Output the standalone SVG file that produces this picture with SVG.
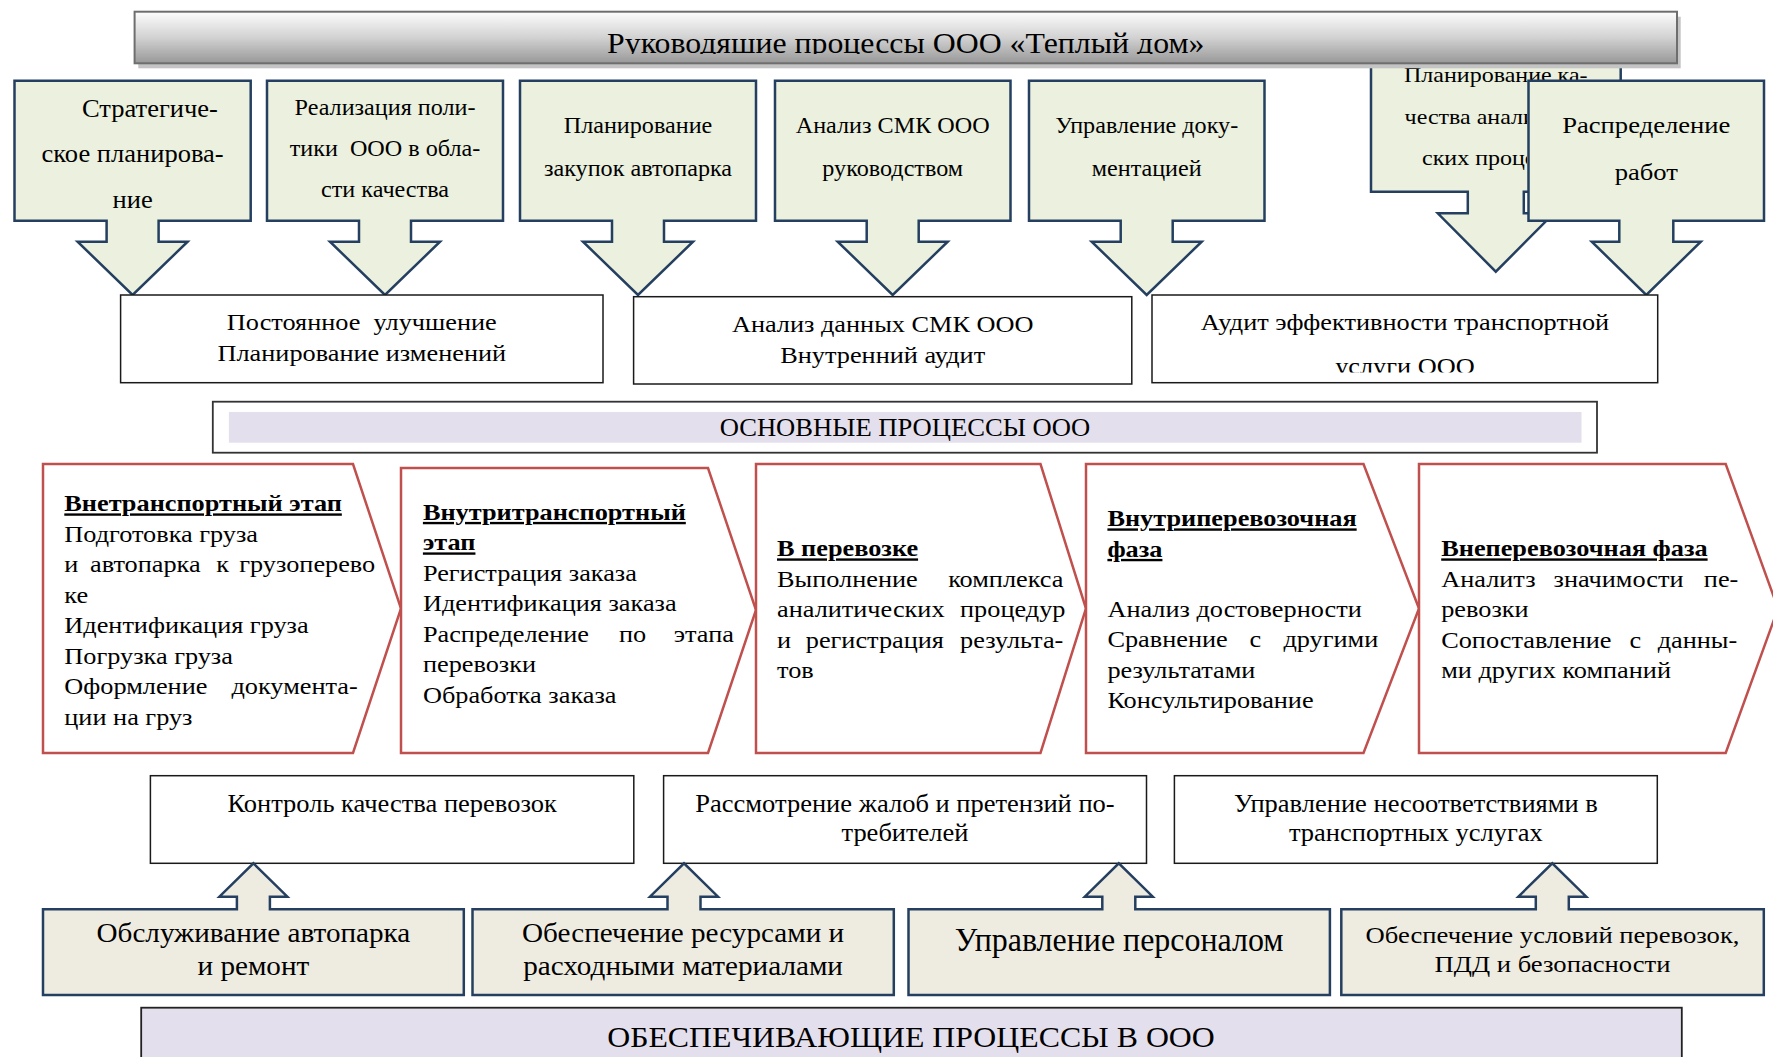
<svg xmlns="http://www.w3.org/2000/svg" width="1773" height="1057" viewBox="0 0 1773 1057">
<style>
.t { font-family: "Liberation Serif", "Times New Roman", serif; fill: #000; }
.b { font-weight: bold; text-decoration: underline; }
.green { fill: #ebf1de; stroke: #243f60; stroke-width: 2.5; }
.white { fill: #ffffff; stroke: #1a1a1a; stroke-width: 1.5; }
.chev { fill: #ffffff; stroke: #c0504d; stroke-width: 2.5; }
.beige { fill: #eeece1; stroke: #243f60; stroke-width: 2.5; }
.lav { fill: #e4dfec; }
</style>
<defs>
<linearGradient id="gTitle" x1="0" y1="0" x2="0" y2="1">
<stop offset="0" stop-color="#fdfdfd"/>
<stop offset="0.5" stop-color="#d2d2d2"/>
<stop offset="1" stop-color="#989898"/>
</linearGradient>
<clipPath id="clipTitle"><rect x="134" y="12" width="1544" height="42"/></clipPath>
<clipPath id="clipAudit"><rect x="1152" y="340" width="505" height="32.5"/></clipPath>
<clipPath id="clipQplan"><rect x="1372" y="88" width="155" height="102"/></clipPath>
</defs>
<rect width="1773" height="1057" fill="#ffffff"/>

<!-- top management callouts -->
<g id="n-strat">
<path class="green" d="M14.5,80.7 H250.7 V220.7 H158.6 V241.7 H187.6 L132.6,295 L77.6,241.7 H106.6 V220.7 H14.5 Z"/>
<text class="t" font-size="26" transform="matrix(1.02 0 0 1 82 0)" x="0" y="117">Стратегиче-</text>
<text class="t" font-size="26" text-anchor="middle" transform="matrix(1.02 0 0 1 132.6 0)"><tspan x="0" y="162.5">ское планирова-</tspan><tspan x="0" y="208">ние</tspan></text>
</g>
<g id="n-policy">
<path class="green" d="M267,80.7 H503 V220.7 H411 V241.7 H440 L385,295 L330,241.7 H359 V220.7 H267 Z"/>
<text class="t" font-size="23" text-anchor="middle" xml:space="preserve" transform="matrix(1.05 0 0 1 385 0)"><tspan x="0" y="115">Реализация поли-</tspan><tspan x="0" y="156">тики  ООО в обла-</tspan><tspan x="0" y="197">сти качества</tspan></text>
</g>
<g id="n-purchase">
<path class="green" d="M520,80.7 H756 V220.7 H664 V241.7 H693 L638,295 L583,241.7 H612 V220.7 H520 Z"/>
<text class="t" font-size="23" text-anchor="middle" transform="matrix(1.05 0 0 1 638 0)"><tspan x="0" y="133">Планирование</tspan><tspan x="0" y="176">закупок автопарка</tspan></text>
</g>
<g id="n-qms">
<path class="green" d="M775,80.7 H1010.5 V220.7 H918.7 V241.7 H947.7 L892.7,295 L837.7,241.7 H866.7 V220.7 H775 Z"/>
<text class="t" font-size="23" text-anchor="middle" transform="matrix(1.05 0 0 1 892.7 0)"><tspan x="0" y="133">Анализ СМК ООО</tspan><tspan x="0" y="176">руководством</tspan></text>
</g>
<g id="n-docs">
<path class="green" d="M1029,80.7 H1264.5 V220.7 H1172.7 V241.7 H1201.7 L1146.7,295 L1091.7,241.7 H1120.7 V220.7 H1029 Z"/>
<text class="t" font-size="23" text-anchor="middle" transform="matrix(1.05 0 0 1 1146.7 0)"><tspan x="0" y="133">Управление доку-</tspan><tspan x="0" y="176">ментацией</tspan></text>
</g>
<g id="n-qplan">
<path class="green" d="M1371,45 H1620.7 V191.7 H1523.8 V213.3 H1553.8 L1495.8,271.7 L1437.8,213.3 H1467.8 V191.7 H1371 Z"/>
<text class="t" font-size="20" text-anchor="middle" transform="matrix(1.2 0 0 1 1495.8 0)" x="0" y="82.5">Планирование ка-</text>
<g clip-path="url(#clipQplan)">
<text class="t" font-size="20" transform="matrix(1.2 0 0 1 1404.6 0)"><tspan x="0" y="124">чества анали</tspan><tspan x="14.5" y="165">ских проце</tspan></text>
</g>
</g>
<g id="n-distr">
<path class="green" d="M1528.5,80.7 H1764 V220.7 H1673.3 V241.7 H1700.8 L1646.3,295 L1591.8,241.7 H1619.3 V220.7 H1528.5 Z"/>
<text class="t" font-size="24" text-anchor="middle" transform="matrix(1.11 0 0 1 1646.3 0)"><tspan x="0" y="132.7">Распределение</tspan><tspan x="0" y="180">работ</tspan></text>
</g>

<g id="n-title">
<rect x="138.3" y="16.7" width="1542.4" height="51.6" fill="#c4c4c4"/>
<rect x="134.6" y="11.7" width="1542.4" height="51.6" fill="url(#gTitle)" stroke="#6e6e6e" stroke-width="2"/>
<g clip-path="url(#clipTitle)">
<text class="t" font-size="30" text-anchor="middle" transform="matrix(1.06 0 0 1 905.8 0)" x="0" y="53">Руководяшие процессы ООО «Теплый дом»</text>
</g>
</g>

<!-- second row -->
<g id="n-improve">
<rect class="white" x="120.6" y="295" width="482.4" height="87.7"/>
<text class="t" font-size="23.7" text-anchor="middle" xml:space="preserve" transform="matrix(1.11 0 0 1 361.8 0)"><tspan x="0" y="330.5">Постоянное  улучшение</tspan><tspan x="0" y="361">Планирование изменений</tspan></text>
</g>
<g id="n-data">
<rect class="white" x="633.6" y="296.7" width="498.2" height="87.3"/>
<text class="t" font-size="23.7" text-anchor="middle" transform="matrix(1.11 0 0 1 882.7 0)"><tspan x="0" y="332.5">Анализ данных СМК ООО</tspan><tspan x="0" y="363">Внутренний аудит</tspan></text>
</g>
<g id="n-audit">
<rect class="white" x="1152" y="295" width="505.7" height="87.7"/>
<text class="t" font-size="23.7" text-anchor="middle" transform="matrix(1.11 0 0 1 1404.9 0)" x="0" y="330">Аудит эффективности транспортной</text>
<g clip-path="url(#clipAudit)">
<text class="t" font-size="23.7" text-anchor="middle" transform="matrix(1.11 0 0 1 1404.9 0)" x="0" y="374">услуги ООО</text>
</g>
</g>

<!-- main processes header -->
<g id="n-main">
<rect x="212.8" y="401.7" width="1384.2" height="51" fill="#ffffff" stroke="#333333" stroke-width="1.8"/>
<rect class="lav" x="228.9" y="412" width="1352.6" height="30.7"/>
<text class="t" font-size="25" text-anchor="middle" transform="matrix(1.064 0 0 1 904.9 0)" x="0" y="436">ОСНОВНЫЕ ПРОЦЕССЫ ООО</text>
</g>

<!-- chevrons -->
<g id="n-p1">
<polygon class="chev" points="43,464 353,464 401,608.5 353,753 43,753"/>
<text class="t" font-size="23.7" transform="matrix(1.11 0 0 1 64.3 0)">
<tspan class="b" x="0" y="511.5">Внетранспортный этап</tspan>
<tspan x="0" y="542">Подготовка груза</tspan>
<tspan x="0" y="572.5">и</tspan><tspan x="23.2" y="572.5">автопарка</tspan><tspan x="136.8" y="572.5">к</tspan><tspan x="157.6" y="572.5">грузоперево</tspan>
<tspan x="0" y="603">ке</tspan>
<tspan x="0" y="633.5">Идентификация груза</tspan>
<tspan x="0" y="664">Погрузка груза</tspan>
<tspan x="0" y="694.5">Оформление</tspan><tspan x="150.6" y="694.5">документа-</tspan>
<tspan x="0" y="725">ции на груз</tspan>
</text>
</g>
<g id="n-p2">
<polygon class="chev" points="401,468 708,468 756,610 708,753 401,753"/>
<text class="t" font-size="23.7" transform="matrix(1.11 0 0 1 422.9 0)">
<tspan class="b" x="0" y="520">Внутритранспортный</tspan>
<tspan class="b" x="0" y="550.5">этап</tspan>
<tspan x="0" y="581">Регистрация заказа</tspan>
<tspan x="0" y="611.5">Идентификация заказа</tspan>
<tspan x="0" y="642">Распределение</tspan><tspan x="176.7" y="642">по</tspan><tspan x="226" y="642">этапа</tspan>
<tspan x="0" y="672.5">перевозки</tspan>
<tspan x="0" y="703">Обработка заказа</tspan>
</text>
</g>
<g id="n-p3">
<polygon class="chev" points="756,464 1040.5,464 1086,608.5 1040.5,753 756,753"/>
<text class="t" font-size="23.7" transform="matrix(1.11 0 0 1 777 0)">
<tspan class="b" x="0" y="556.5">В перевозке</tspan>
<tspan x="0" y="587">Выполнение</tspan><tspan x="154.2" y="587">комплекса</tspan>
<tspan x="0" y="617.5">аналитических</tspan><tspan x="164.9" y="617.5">процедур</tspan>
<tspan x="0" y="648">и</tspan><tspan x="25.9" y="648">регистрация</tspan><tspan x="164.9" y="648">результа-</tspan>
<tspan x="0" y="678.5">тов</tspan>
</text>
</g>
<g id="n-p4">
<polygon class="chev" points="1086,464 1363.5,464 1419,608.5 1363.5,753 1086,753"/>
<text class="t" font-size="23.7" transform="matrix(1.11 0 0 1 1107.4 0)">
<tspan class="b" x="0" y="526.5">Внутриперевозочная</tspan>
<tspan class="b" x="0" y="557">фаза</tspan>
<tspan x="0" y="617">Анализ достоверности</tspan>
<tspan x="0" y="647.5">Сравнение</tspan><tspan x="128" y="647.5">с</tspan><tspan x="158.6" y="647.5">другими</tspan>
<tspan x="0" y="678">результатами</tspan>
<tspan x="0" y="708.5">Консультирование</tspan>
</text>
</g>
<g id="n-p5">
<polygon class="chev" points="1419,464 1725.7,464 1778,608.5 1725.7,753 1419,753"/>
<text class="t" font-size="23.7" transform="matrix(1.11 0 0 1 1441.2 0)">
<tspan class="b" x="0" y="556.5">Внеперевозочная фаза</tspan>
<tspan x="0" y="587">Аналитз</tspan><tspan x="101.2" y="587">значимости</tspan><tspan x="236.6" y="587">пе-</tspan>
<tspan x="0" y="617.5">ревозки</tspan>
<tspan x="0" y="648">Сопоставление</tspan><tspan x="169.7" y="648">с</tspan><tspan x="195" y="648">данны-</tspan>
<tspan x="0" y="678.5">ми других компаний</tspan>
</text>
</g>

<!-- third row -->
<g id="n-control">
<rect class="white" x="150.4" y="775.7" width="483.4" height="87.6"/>
<text class="t" font-size="25" text-anchor="middle" transform="matrix(1.06 0 0 1 392.1 0)" x="0" y="811.7">Контроль качества перевозок</text>
</g>
<g id="n-claims">
<rect class="white" x="663.6" y="775.7" width="482.9" height="87.6"/>
<text class="t" font-size="25" text-anchor="middle" transform="matrix(1.06 0 0 1 905 0)"><tspan x="0" y="811.7">Рассмотрение жалоб и претензий по-</tspan><tspan x="0" y="841">требителей</tspan></text>
</g>
<g id="n-noncon">
<rect class="white" x="1174.4" y="775.7" width="482.9" height="87.6"/>
<text class="t" font-size="25" text-anchor="middle" transform="matrix(1.06 0 0 1 1415.9 0)"><tspan x="0" y="811.7">Управление несоответствиями в</tspan><tspan x="0" y="841">транспортных услугах</tspan></text>
</g>

<!-- supporting callouts -->
<g id="n-fleet">
<path class="beige" d="M43,909.3 H236.9 V896.7 H219.4 L253.4,863.3 L287.4,896.7 H269.9 V909.3 H463.8 V995 H43 Z"/>
<text class="t" font-size="27" text-anchor="middle" transform="matrix(1.08 0 0 1 253.4 0)"><tspan x="0" y="942.5">Обслуживание автопарка</tspan><tspan x="0" y="975.5">и ремонт</tspan></text>
</g>
<g id="n-resources">
<path class="beige" d="M472.5,909.3 H667.5 V896.7 H650 L684,863.3 L718,896.7 H700.5 V909.3 H893.8 V995 H472.5 Z"/>
<text class="t" font-size="27" text-anchor="middle" transform="matrix(1.08 0 0 1 683.1 0)"><tspan x="0" y="942.5">Обеспечение ресурсами и</tspan><tspan x="0" y="975.5">расходными материалами</tspan></text>
</g>
<g id="n-staff">
<path class="beige" d="M908.5,909.3 H1102.3 V896.7 H1084.8 L1118.8,863.3 L1152.8,896.7 H1135.3 V909.3 H1329.9 V995 H908.5 Z"/>
<text class="t" font-size="34" text-anchor="middle" transform="matrix(0.94 0 0 1 1119.2 0)" x="0" y="951">Управление персоналом</text>
</g>
<g id="n-safety">
<path class="beige" d="M1341.3,909.3 H1535.8 V896.7 H1518.3 L1552.3,863.3 L1586.3,896.7 H1568.8 V909.3 H1763.8 V995 H1341.3 Z"/>
<text class="t" font-size="24" text-anchor="middle" transform="matrix(1.11 0 0 1 1552.5 0)"><tspan x="0" y="942.7">Обеспечение условий перевозок,</tspan><tspan x="0" y="972.3">ПДД и безопасности</tspan></text>
</g>

<g id="n-support">
<rect x="141.2" y="1007.7" width="1540.6" height="60" class="lav" stroke="#222222" stroke-width="1.8"/>
<text class="t" font-size="30" text-anchor="middle" transform="matrix(1.06 0 0 1 911 0)" x="0" y="1046.7">ОБЕСПЕЧИВАЮЩИЕ ПРОЦЕССЫ В ООО</text>
</g>

<g id="connectors"></g>
</svg>
